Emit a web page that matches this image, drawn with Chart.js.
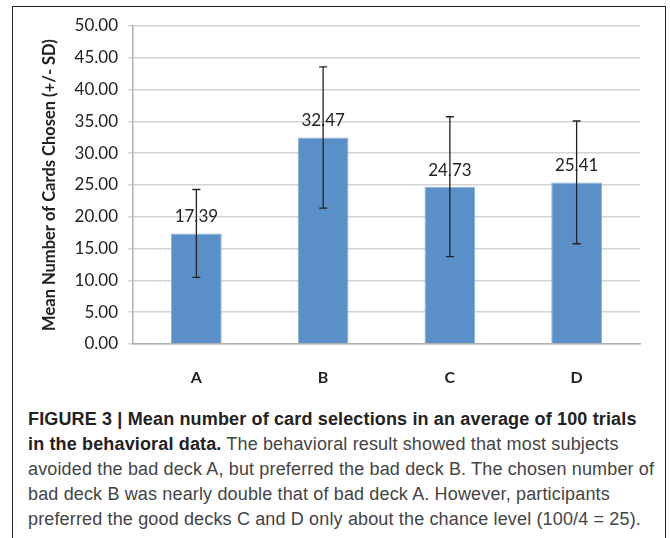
<!DOCTYPE html>
<html>
<head>
<meta charset="utf-8">
<script src="https://cdn.jsdelivr.net/npm/chart.js@4"></script>
<style>
  body { margin: 0; background: #fff; width: 670px; height: 538px; overflow: hidden; position: relative; }
  #frame { position: absolute; left: 12px; top: 6px; width: 652px; height: 560px; border: 1.5px solid #222; }
  #chart { position: absolute; left: 0; top: 0; }
  #caption { position: absolute; left: 28px; top: 407px; font-family: "Liberation Sans", Arial, sans-serif;
             font-size: 18px; line-height: 25px; letter-spacing: 0.15px; color: #444; white-space: nowrap; }
  #caption b { color: #222; }
</style>
</head>
<body>
<div id="frame"></div>
<canvas id="chart" width="670" height="400"></canvas>
<div id="caption">
  <b>FIGURE 3 | Mean number of card selections in an average of 100 trials</b><br>
  <b>in the behavioral data.</b> The behavioral result showed that most subjects<br>
  avoided the bad deck A, but preferred the bad deck B. The chosen number of<br>
  bad deck B was nearly double that of bad deck A. However, participants<br>
  preferred the good decks C and D only about the chance level (100/4 = 25).
</div>
<script>
var decks = ['A', 'B', 'C', 'D'];
var means = [17.39, 32.47, 24.73, 25.41];
var sds = [6.9, 11.1, 11.0, 9.65];

var chartFont = 'Lato, "Open Sans", sans-serif';

// value labels, then the +/- SD whiskers on top of them
var errorBars = {
    id: 'errorBars',
    afterDatasetsDraw: function (chart) {
        var ctx = chart.ctx;
        var meta = chart.getDatasetMeta(0);
        var y = chart.scales.y;
        ctx.save();
        ctx.font = '17px ' + chartFont;
        ctx.fillStyle = '#222';
        ctx.textAlign = 'center';
        ctx.textBaseline = 'bottom';
        meta.data.forEach(function (bar, i) {
            ctx.fillText(means[i].toFixed(2), bar.x, bar.y - 8);
        });
        ctx.strokeStyle = '#222';
        ctx.lineWidth = 1.3;
        meta.data.forEach(function (bar, i) {
            var top = y.getPixelForValue(means[i] + sds[i]);
            var bot = y.getPixelForValue(means[i] - sds[i]);
            ctx.beginPath();
            ctx.moveTo(bar.x, top);
            ctx.lineTo(bar.x, bot);
            ctx.moveTo(bar.x - 4, top);
            ctx.lineTo(bar.x + 4, top);
            ctx.moveTo(bar.x - 4, bot);
            ctx.lineTo(bar.x + 4, bot);
            ctx.stroke();
        });
        ctx.restore();
    }
};

new Chart(document.getElementById('chart'), {
    type: 'bar',
    data: {
        labels: decks,
        datasets: [{
            data: means,
            backgroundColor: '#5b8fc7',
            borderColor: '#8ab0da',
            borderWidth: 1,
            barPercentage: 0.4,
            categoryPercentage: 1
        }]
    },
    options: {
        responsive: false,
        devicePixelRatio: 1,
        animation: false,
        layout: { padding: { left: 0, right: 30, top: 26, bottom: 16 } },
        plugins: { legend: { display: false }, tooltip: { enabled: false } },
        scales: {
            y: {
                min: 0,
                max: 50,
                ticks: {
                    stepSize: 5,
                    padding: 10,
                    color: '#222',
                    font: { family: chartFont, size: 17 },
                    callback: function (v) { return v.toFixed(2); }
                },
                grid: { color: '#d4d4d4', lineWidth: 1.5, tickLength: 5 },
                border: { color: '#b0b0b0', width: 1.5 },
                title: {
                    display: true,
                    text: 'Mean Number of Cards Chosen (+/- SD)',
                    color: '#222',
                    font: { family: chartFont, size: 16.5, weight: 'bold' },
                    padding: { top: 40, bottom: 0 }
                },
                afterFit: function (scale) { scale.width = 133; }
            },
            x: {
                grid: { display: false },
                border: { color: '#b0b0b0', width: 1.5 },
                ticks: {
                    padding: 16,
                    color: '#222',
                    font: { family: chartFont, size: 16, weight: 'bold' }
                },
                afterFit: function (scale) { scale.height = 40; }
            }
        }
    },
    plugins: [errorBars]
});
</script>
</body>
</html>
